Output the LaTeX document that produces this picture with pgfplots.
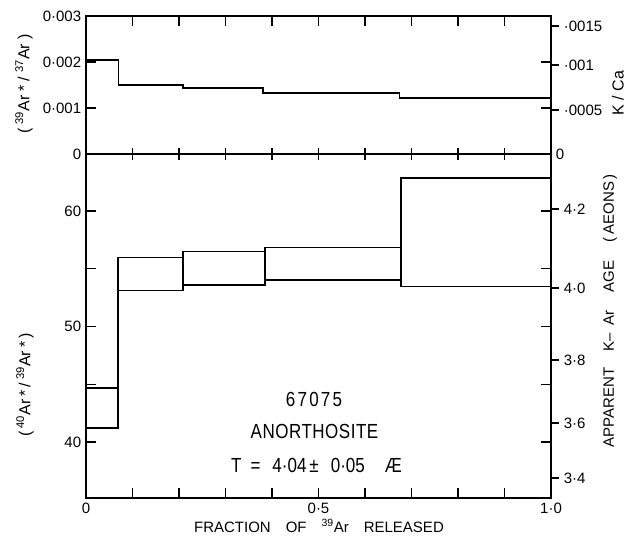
\documentclass[border=0pt]{standalone}
\usepackage{fontspec}
\setmainfont{Liberation Sans}
\newfontfamily\spaced[LetterSpace=13]{Liberation Sans}
\newfontfamily\spacedb[LetterSpace=3]{Liberation Sans}
\usepackage{pgfplots}
\pgfplotsset{compat=1.18}
\begin{document}
\fontsize{14}{16}\selectfont
\begin{tikzpicture}[x=1pt,y=1pt]
\pgfplotsset{
 base/.style={scale only axis, width=465pt, xmin=0, xmax=1,
   axis line style={line width=1.2pt},
   every tick/.style={black,line width=1.2pt},
   tick align=inside, major tick length=10pt,
   ticklabel style={font=\fontsize{15}{17}\selectfont},
   scaled y ticks=false, scaled x ticks=false,
   xtick={0,0.1,0.2,0.3,0.4,0.5,0.6,0.7,0.8,0.9,1}},
 data/.style={black, line width=1.6pt, no marks},
}
% ---------- bottom panel ----------
\begin{axis}[base, at={(0pt,0pt)}, anchor=south west, height=344pt,
  ymin=35.15, ymax=64.93,
  xticklabels={0,,,,,0·5,,,,,1·0}, xtick pos=left,
  ytick={40,45,50,55,60}, yticklabels={40,,50,,60},
  ytick pos=both, yticklabel pos=left]
\addplot[data, const plot] coordinates {(0,44.68) (0.069,55.96) (0.209,56.48) (0.385,56.85) (0.677,62.83) (1,62.83)};
\addplot[data, const plot] coordinates {(0,41.2) (0.069,53.1) (0.209,53.6) (0.385,54.0) (0.677,53.45) (1,53.45)};
\addplot[data] coordinates {(0.069,41.2) (0.069,55.96)};
\addplot[data] coordinates {(0.209,53.1) (0.209,56.48)};
\addplot[data] coordinates {(0.385,53.6) (0.385,56.85)};
\addplot[data] coordinates {(0.677,53.45) (0.677,62.83)};
\end{axis}
% right age axis
\begin{axis}[base, at={(0pt,0pt)}, anchor=south west, height=344pt,
  ymin=35.15, ymax=64.93, axis line style={draw=none},
  xtick=\empty,
  ytick={36.88,41.64,47.1,53.33,60.17}, yticklabels={3·4,3·6,3·8,4·0,4·2},
  ytick pos=right, yticklabel pos=right, tick align=outside, major tick length=8pt]
\end{axis}
% ---------- top panel ----------
\begin{axis}[base, at={(0pt,344pt)}, anchor=south west, height=138pt,
  ymin=0, ymax=0.003,
  xticklabels={}, xtick pos=right,
  ytick={0,0.001,0.002,0.003}, yticklabels={0,0·001,0·002,0·003},
  ytick pos=both, yticklabel pos=left]
\addplot[data, const plot] coordinates {(0,0.00204) (0.0695,0.0015) (0.209,0.00144) (0.381,0.00133) (0.674,0.00122) (1,0.00122)};
\end{axis}
% middle line ticks (crossing)
\begin{axis}[base, at={(0pt,344pt)}, anchor=south west, height=138pt,
  ymin=0, ymax=0.003, axis line style={draw=none},
  xticklabels={}, xtick pos=left, tick align=center, major tick length=12pt,
  ytick=\empty]
\end{axis}
% right K/Ca axis
\begin{axis}[base, at={(0pt,344pt)}, anchor=south west, height=138pt,
  ymin=0, ymax=0.003, axis line style={draw=none},
  xtick=\empty,
  ytick={0.000957,0.001935,0.002783}, yticklabels={·0005,·001,·0015},
  extra y ticks={0}, extra y tick labels={0},
  extra y tick style={major tick length=0pt},
  ytick pos=right, yticklabel pos=right, tick align=outside, major tick length=8pt]
\end{axis}
% ---------- labels ----------
\begin{scope}[every node/.style={font=\fontsize{15}{17}\selectfont, inner sep=0pt}]
\node at (233,-28) {FRACTION\quad OF\quad \textsuperscript{39}Ar\quad RELEASED};
\node[rotate=90, font=\fontsize{16}{18}\selectfont] at (-62,414) {(\hspace{4pt}\textsuperscript{39}Ar\hspace{4pt}*\hspace{4pt}/\hspace{4pt}\textsuperscript{37}Ar\hspace{4pt})};
\node[rotate=90, font=\fontsize{16}{18}\selectfont] at (-61,113) {(\hspace{3pt}\textsuperscript{40}Ar\hspace{3pt}*\hspace{3pt}/\hspace{3pt}\textsuperscript{39}Ar\hspace{3pt}*\hspace{3pt})};
\node[rotate=90] at (524,187) {APPARENT\hspace{16pt}K–\hspace{8pt}Ar\hspace{18pt}AGE\hspace{18pt}(\hspace{3pt}AEONS\hspace{2pt})};
\node[rotate=90, font=\fontsize{16}{18}\selectfont] at (532,405) {K / Ca};
\node at (228,98.5) {\scalebox{1}[1.2]{\fontsize{17}{19}\spaced 67075}};
\node at (228.5,66.5) {\scalebox{1}[1.2]{\fontsize{17}{19}\spacedb ANORTHOSITE}};
\node at (230.5,32.5) {\scalebox{1}[1.2]{\fontsize{17}{19}\selectfont T\hspace{9pt}=\hspace{12pt}4·04\hspace{3pt}±\hspace{12pt}0·05\hspace{20pt}Æ}};
\end{scope}
\pgfresetboundingbox
\path[use as bounding box] (-86,-43) rectangle (545,498);
\end{tikzpicture}
\end{document}
